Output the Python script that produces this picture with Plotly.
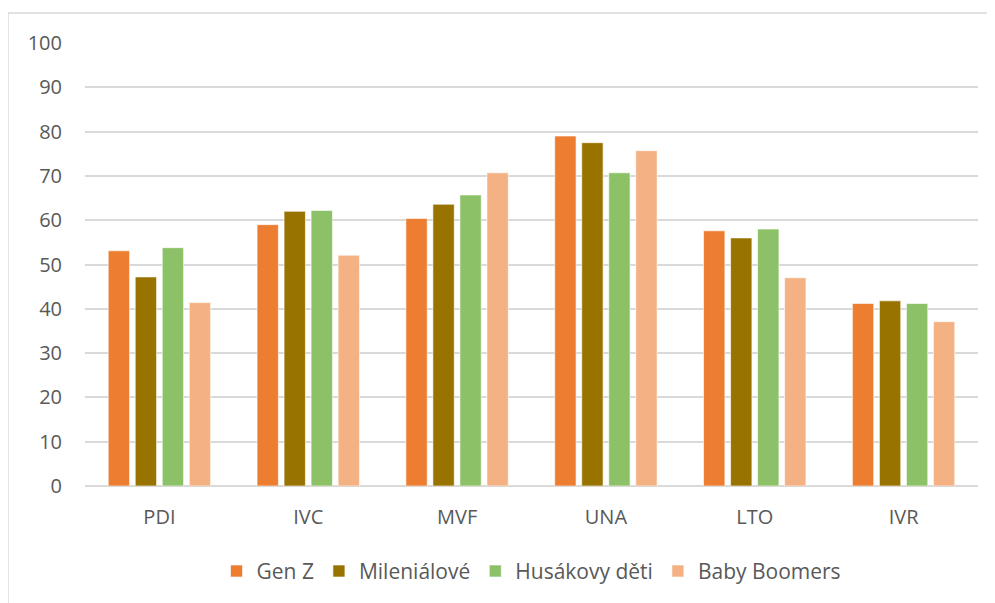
import plotly.graph_objects as go

categories = ["PDI", "IVC", "MVF", "UNA", "LTO", "IVR"]
series_names = ["Gen Z", "Mileniálové", "Husákovy děti", "Baby Boomers"]
gen_z = [53.1, 59.0, 60.4, 79.0, 57.6, 41.2]
mileniálové = [47.2, 62.0, 63.6, 77.5, 56.0, 41.8]
husákovy_děti = [53.8, 62.2, 65.7, 70.7, 58.0, 41.2]
baby_boomers = [41.4, 52.1, 70.7, 75.7, 47.0, 37.1]
y_ticks = [0, 10, 20, 30, 40, 50, 60, 70, 80, 90, 100]

colors = ["#ED7D31", "#997300", "#8CC168", "#F4B183"]
values = [gen_z, mileniálové, husákovy_děti, baby_boomers]

fig = go.Figure()
for name, vals, col in zip(series_names, values, colors):
    fig.add_trace(go.Bar(
        x=categories, y=vals, name=name,
        marker=dict(color=col, line=dict(color="rgba(255,255,255,0.6)", width=1)),
    ))

font_family = "Open Sans"
text_color = "#595959"

fig.update_layout(
    width=987, height=595,
    margin=dict(l=77, r=17, t=35, b=116),
    paper_bgcolor="white", plot_bgcolor="white",
    barmode="group", bargap=0.274, bargroupgap=0.21,
    font=dict(family=font_family, size=20, color=text_color),
    showlegend=True,
    legend=dict(orientation="h", x=0.5, xanchor="center", y=-0.19, yanchor="middle",
                font=dict(family=font_family, size=21, color=text_color),
                itemwidth=30, traceorder="normal"),
    xaxis=dict(showgrid=False, showline=False, ticks="", ticklabelstandoff=17,
               tickfont=dict(family=font_family, size=20, color=text_color)),
    yaxis=dict(range=[0, 100], tickvals=y_ticks, showgrid=True, gridcolor="#D9D9D9",
               gridwidth=1.5, zeroline=True, zerolinecolor="#D9D9D9", zerolinewidth=1.5,
               showline=False, ticks="", ticklabelstandoff=22,
               tickfont=dict(family=font_family, size=20, color=text_color)),
    shapes=[dict(type="rect", xref="paper", yref="paper",
                 x0=-0.0863, x1=1.05, y0=-0.4, y1=1.0676,
                 line=dict(color="#D9D9D9", width=1.5), fillcolor="rgba(0,0,0,0)",
                 layer="below")],
)

fig.write_html("out.html")
